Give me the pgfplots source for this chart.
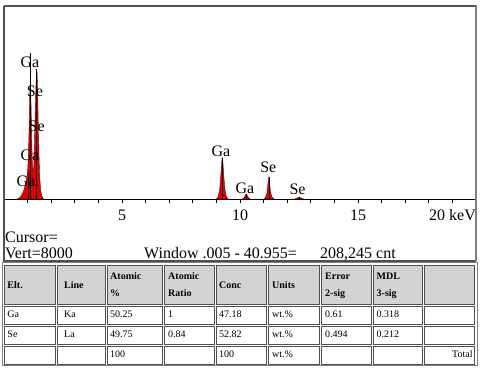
\documentclass[border=0pt]{standalone}
\usepackage{fontspec}
\setmainfont{Liberation Serif}
\usepackage{pgfplots}
\pgfplotsset{compat=1.18}
\definecolor{peakred}{HTML}{DC0000}
\definecolor{peakedge}{HTML}{8A0000}
\definecolor{framegray}{HTML}{505050}
\definecolor{headgray}{HTML}{D3D3D3}
\definecolor{cellline}{HTML}{505050}
\newcommand{\lab}{\fontsize{16}{18}\selectfont}
\newcommand{\tab}{\fontsize{10}{12}\selectfont}
\begin{document}
\begin{tikzpicture}[x=1pt,y=1pt]
\useasboundingbox[fill=white] (0,0) rectangle (480,369);
\begin{axis}[at={(4pt,170pt)}, anchor=south west, scale only axis,
  width=472pt, height=193pt, xmin=0, xmax=20, ymin=0, ymax=8000,
  axis y line=none, axis x line*=bottom,
  x axis line style={black, line width=0.8pt},
  xtick={5,10,15}, minor xtick={1,...,20},
  tick align=outside, major tick length=4.5pt, minor tick length=4.5pt,
  tick style={black, line width=0.7pt},
  xticklabel style={font=\lab, inner sep=0pt, anchor=north, yshift=-6pt},
  /pgf/number format/assume math mode=true, clip=false]
\addplot[fill=peakred, draw=peakedge, line width=0.4pt] coordinates {
(0.55,0) (0.65,40) (0.72,120) (0.80,260) (0.86,430) (0.91,620) (0.96,850)
(1.00,1150) (1.03,1700) (1.06,2800) (1.08,3900) (1.10,4700) (1.12,4850)
(1.14,4200) (1.17,2700) (1.20,1500) (1.23,1150) (1.26,1350) (1.29,2200)
(1.32,3500) (1.35,4600) (1.38,5200) (1.40,5250) (1.42,4700) (1.45,3300)
(1.48,1900) (1.51,950) (1.55,400) (1.60,130) (1.68,0)} \closedcycle;
\addplot[fill=peakred, draw=peakedge, line width=0.4pt] coordinates {
(9.00,0) (9.08,100) (9.14,400) (9.19,1000) (9.23,1600) (9.25,1700)
(9.27,1600) (9.31,1000) (9.36,400) (9.42,100) (9.50,0)} \closedcycle;
\addplot[fill=peakred, draw=peakedge, line width=0.4pt] coordinates {
(10.10,0) (10.18,60) (10.23,170) (10.265,210) (10.30,170) (10.35,60) (10.43,0)} \closedcycle;
\addplot[fill=peakred, draw=peakedge, line width=0.4pt] coordinates {
(11.00,0) (11.08,60) (11.14,250) (11.18,600) (11.22,910) (11.26,600)
(11.30,250) (11.37,60) (11.45,0)} \closedcycle;
\addplot[fill=peakred, draw=peakedge, line width=0.4pt] coordinates {
(12.30,0) (12.40,30) (12.50,80) (12.60,30) (12.70,0)} \closedcycle;
\addplot[ycomb, black, line width=0.5pt, no marks] coordinates {
(1.12,6050) (1.385,5400) (1.03,1100) (1.36,1200) (9.25,1700) (10.265,210) (11.22,910) (12.5,80)};
\node[font=\lab, inner sep=0pt] at (axis cs:1.10,5680) {Ga};
\node[font=\lab, inner sep=0pt] at (axis cs:1.31,4450) {Se};
\node[font=\lab, inner sep=0pt] at (axis cs:1.385,3000) {Se};
\node[font=\lab, inner sep=0pt] at (axis cs:1.10,1824) {Ga};
\node[font=\lab, inner sep=0pt] at (axis cs:0.93,717) {Ga};
\node[font=\lab, inner sep=0pt] at (axis cs:9.19,1990) {Ga};
\node[font=\lab, inner sep=0pt] at (axis cs:10.21,443) {Ga};
\node[font=\lab, inner sep=0pt] at (axis cs:11.2,1297) {Se};
\node[font=\lab, inner sep=0pt] at (axis cs:12.44,402) {Se};
\end{axis}
\begin{scope}[y=-1pt, yshift=369pt]
\draw[framegray, line width=1.4pt] (4,6) -- (476,6);
\draw[framegray, line width=1.4pt] (4,6) -- (4,261) -- (476,261);
\draw[gray, line width=2pt] (476,5.5) -- (476,261);
\node[font=\lab, inner sep=0pt, anchor=base east] at (476,221) {20 keV};
\node[font=\lab, inner sep=0pt, anchor=base west] at (5,243) {Cursor=};
\node[font=\lab, inner sep=0pt, anchor=base west] at (5,259) {Vert=8000};
\node[font=\lab, inner sep=0pt, anchor=base west] at (144,259) {Window .005 - 40.955=};
\node[font=\lab, inner sep=0pt, anchor=base west] at (320,259) {208,245 cnt};
% table
\draw[gray, line width=1pt] (2.5,263) rectangle (477,366);
\foreach \a/\b in {4.5/55, 57/105, 107/162, 164/214, 216/266, 268/319, 321/371, 373/422, 424/474} {
  \filldraw[fill=headgray, draw=cellline, line width=0.8pt] (\a,265) rectangle (\b,304);
  \draw[cellline, line width=0.8pt] (\a,306) rectangle (\b,324);
  \draw[cellline, line width=0.8pt] (\a,326) rectangle (\b,344);
  \draw[cellline, line width=0.8pt] (\a,346) rectangle (\b,364);
}
\begin{scope}[every node/.style={inner sep=0pt, anchor=base west, font=\tab\bfseries}]
\node at (7.3,288.5) {Elt.};
\node at (64,288.5) {Line};
\node at (110,279.5) {Atomic};
\node at (110,297) {\%};
\node at (168,279.5) {Atomic};
\node at (168,297) {Ratio};
\node at (219,288.5) {Conc};
\node at (272,288.5) {Units};
\node at (325,279.5) {Error};
\node at (325,297) {2-sig};
\node at (376.5,279.5) {MDL};
\node at (376.5,297) {3-sig};
\end{scope}
\begin{scope}[every node/.style={inner sep=0pt, anchor=base west, font=\tab}]
\node at (7.3,318) {Ga};
\node at (64,318) {Ka};
\node at (110,318) {50.25};
\node at (168,318) {1};
\node at (219,318) {47.18};
\node at (272,318) {wt.\%};
\node at (325,318) {0.61};
\node at (376.5,318) {0.318};
\node at (7.3,338) {Se};
\node at (64,338) {La};
\node at (110,338) {49.75};
\node at (168,338) {0.84};
\node at (219,338) {52.82};
\node at (272,338) {wt.\%};
\node at (325,338) {0.494};
\node at (376.5,338) {0.212};
\node at (110,358) {100};
\node at (219,358) {100};
\node at (272,358) {wt.\%};
\node at (452,358) {Total};
\end{scope}
\end{scope}
\end{tikzpicture}
\end{document}
